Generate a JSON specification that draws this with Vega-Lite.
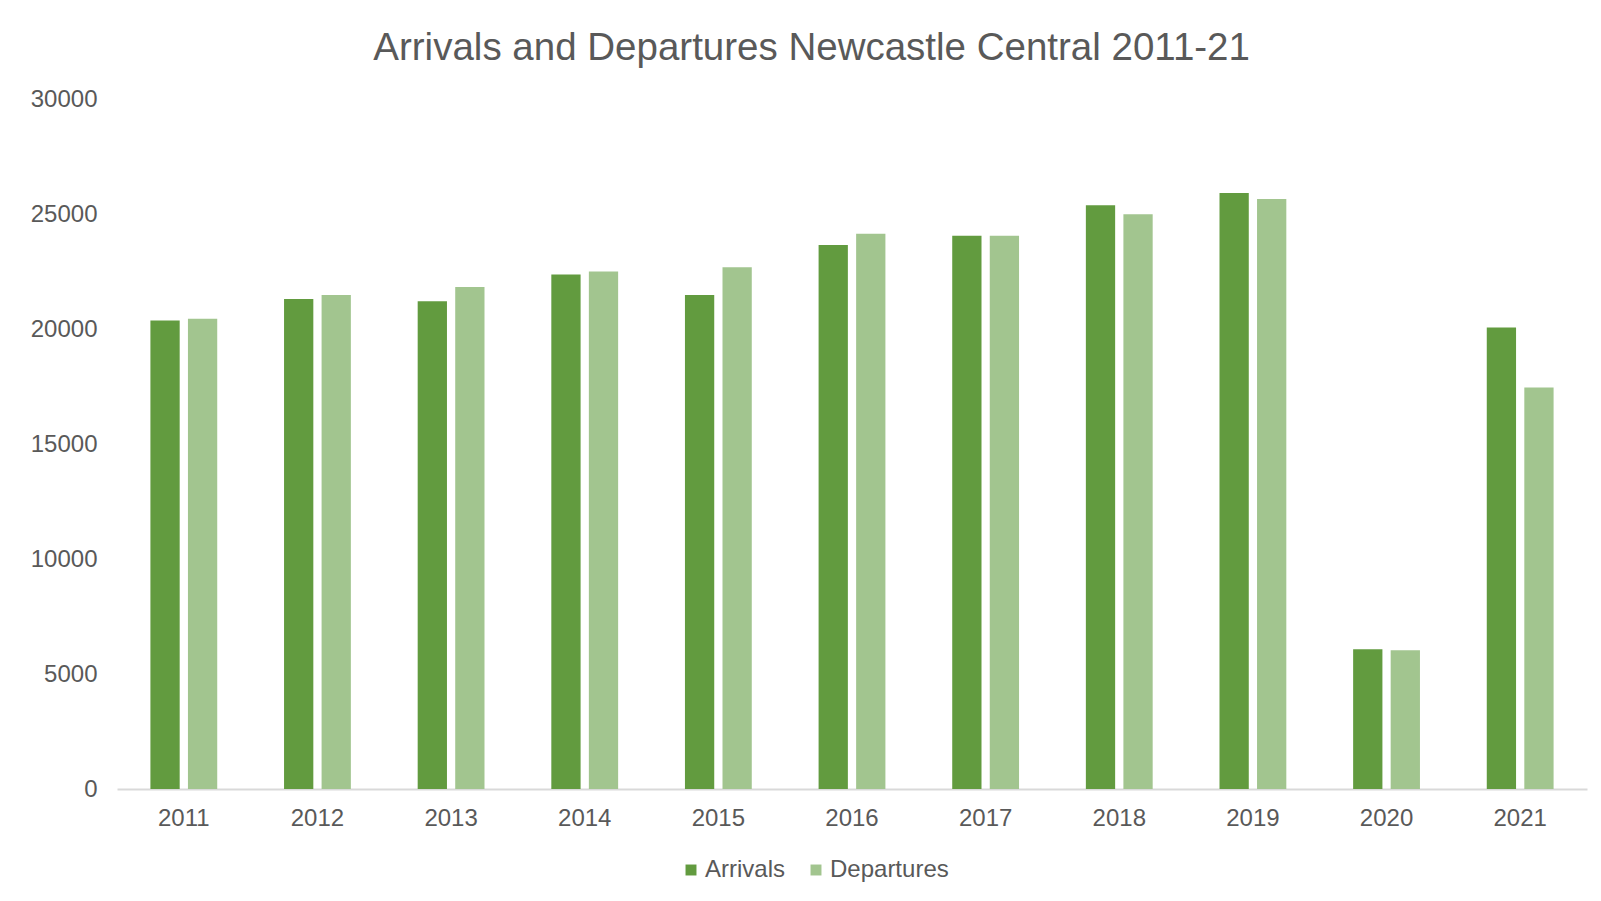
{
  "$schema": "https://vega.github.io/schema/vega-lite/v6.json",
  "autosize": {"type": "none"},
  "width": 1470,
  "height": 690,
  "padding": {"left": 117, "top": 99, "right": 14, "bottom": 112},
  "background": "white",
  "title": {
    "text": "Arrivals and Departures Newcastle Central 2011-21",
    "anchor": "middle",
    "frame": "bounds",
    "font": "Liberation Sans",
    "fontSize": 38.5,
    "fontWeight": "normal",
    "color": "#595959",
    "offset": 19,
    "dx": 3
  },
  "data": {
    "values": [
      {"year": "2011", "series": "Arrivals", "count": 20370},
      {"year": "2011", "series": "Departures", "count": 20450},
      {"year": "2012", "series": "Arrivals", "count": 21300},
      {"year": "2012", "series": "Departures", "count": 21480},
      {"year": "2013", "series": "Arrivals", "count": 21210},
      {"year": "2013", "series": "Departures", "count": 21830},
      {"year": "2014", "series": "Arrivals", "count": 22370},
      {"year": "2014", "series": "Departures", "count": 22500},
      {"year": "2015", "series": "Arrivals", "count": 21480},
      {"year": "2015", "series": "Departures", "count": 22680},
      {"year": "2016", "series": "Arrivals", "count": 23650},
      {"year": "2016", "series": "Departures", "count": 24140},
      {"year": "2017", "series": "Arrivals", "count": 24050},
      {"year": "2017", "series": "Departures", "count": 24050},
      {"year": "2018", "series": "Arrivals", "count": 25380},
      {"year": "2018", "series": "Departures", "count": 24990},
      {"year": "2019", "series": "Arrivals", "count": 25910},
      {"year": "2019", "series": "Departures", "count": 25650},
      {"year": "2020", "series": "Arrivals", "count": 6080},
      {"year": "2020", "series": "Departures", "count": 6030},
      {"year": "2021", "series": "Arrivals", "count": 20060},
      {"year": "2021", "series": "Departures", "count": 17460}
    ]
  },
  "mark": {"type": "bar"},
  "encoding": {
    "x": {
      "field": "year",
      "type": "nominal",
      "scale": {"paddingInner": 0.5, "paddingOuter": 0.25},
      "axis": {
        "title": null,
        "labelAngle": 0,
        "labelFont": "Liberation Sans",
        "labelFontSize": 24,
        "labelColor": "#595959",
        "labelPadding": 17,
        "ticks": false,
        "domainColor": "#d9d9d9",
        "domainWidth": 2
      }
    },
    "xOffset": {
      "field": "series",
      "type": "nominal",
      "scale": {"paddingInner": 0.22, "paddingOuter": 0}
    },
    "y": {
      "field": "count",
      "type": "quantitative",
      "scale": {"domain": [0, 30000], "nice": false},
      "axis": {
        "title": null,
        "values": [0, 5000, 10000, 15000, 20000, 25000, 30000],
        "format": "d",
        "grid": false,
        "domain": false,
        "ticks": false,
        "labelFont": "Liberation Sans",
        "labelFontSize": 24,
        "labelColor": "#595959",
        "labelPadding": 20
      }
    },
    "color": {
      "field": "series",
      "type": "nominal",
      "scale": {"domain": ["Arrivals", "Departures"], "range": ["#629B3F", "#A2C58F"]},
      "legend": {
        "title": null,
        "orient": "none",
        "direction": "horizontal",
        "legendX": 562,
        "legendY": 759,
        "padding": 0,
        "symbolType": "square",
        "symbolSize": 120,
        "symbolStrokeWidth": 0,
        "labelFont": "Liberation Sans",
        "labelFontSize": 24,
        "labelColor": "#595959",
        "labelOffset": 2,
        "columnPadding": 18
      }
    }
  },
  "config": {"view": {"stroke": null}}
}
